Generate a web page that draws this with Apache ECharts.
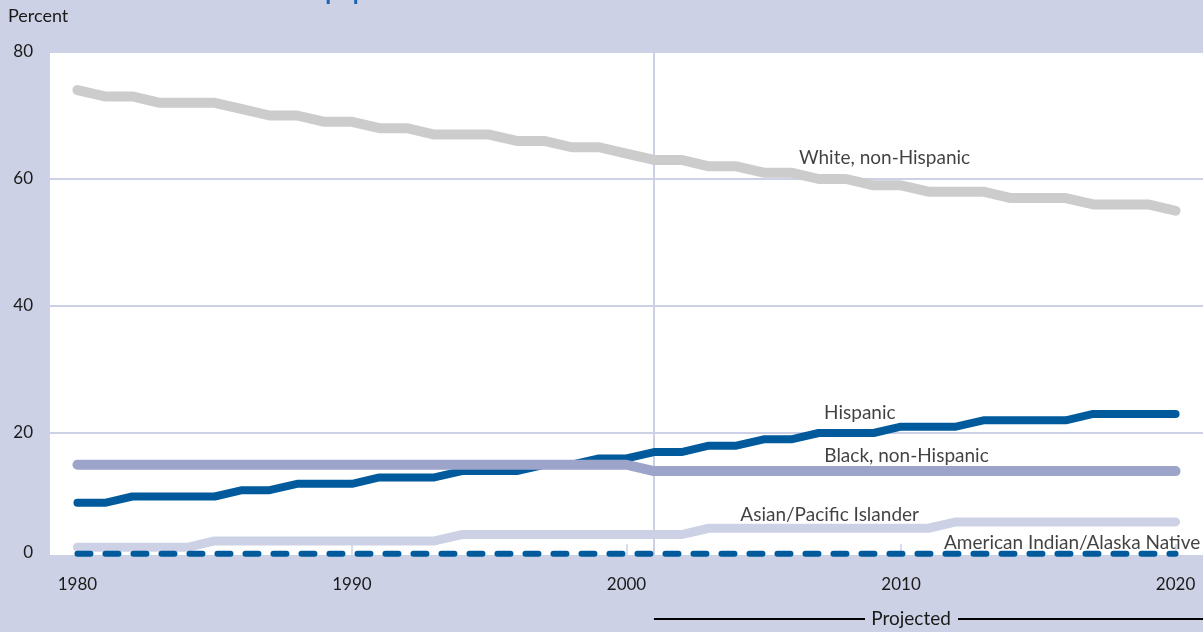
<!DOCTYPE html>
<html>
<head>
<meta charset="utf-8">
<script src="https://cdn.jsdelivr.net/npm/echarts@6/dist/echarts.min.js"></script>
<style>
html,body{margin:0;padding:0;background:#cdd1e5;}
#c{width:1203px;height:632px;}
</style>
</head>
<body>
<div id="c"></div>
<script>
const years = [1980,1981,1982,1983,1984,1985,1986,1987,1988,1989,1990,
  1991,1992,1993,1994,1995,1996,1997,1998,1999,2000,
  2001,2002,2003,2004,2005,2006,2007,2008,2009,2010,
  2011,2012,2013,2014,2015,2016,2017,2018,2019,2020];
const whiteNH = [74,73,73,72,72,72,71,70,70,69,69,
  68,68,67,67,67,66,66,65,65,64,
  63,63,62,62,61,61,60,60,59,59,
  58,58,58,57,57,57,56,56,56,55];
const hispanic = [9,9,10,10,10,10,11,11,12,12,12,
  13,13,13,14,14,14,15,15,16,16,
  17,17,18,18,19,19,20,20,20,21,
  21,21,22,22,22,22,23,23,23,23];
const blackNH = [15,15,15,15,15,15,15,15,15,15,15,
  15,15,15,15,15,15,15,15,15,15,
  14,14,14,14,14,14,14,14,14,14,
  14,14,14,14,14,14,14,14,14,14];
const asianPI = [2,2,2,2,2,3,3,3,3,3,3,
  3,3,3,4,4,4,4,4,4,4,
  4,4,5,5,5,5,5,5,5,5,
  5,6,6,6,6,6,6,6,6,6];
const amIndAN = [1,1,1,1,1,1,1,1,1,1,1,
  1,1,1,1,1,1,1,1,1,1,
  1,1,1,1,1,1,1,1,1,1,
  1,1,1,1,1,1,1,1,1,1];
const xTicks = [1980,1990,2000,2010,2020];
const yTicks = [0,20,40,60,80];
const projectionStart = 2001;
// series labels: [year, value, text]
const seriesLabels = [
  [2009.4, 63.3, 'White, non-Hispanic'],
  [2008.5, 23.1, 'Hispanic'],
  [2010.2, 16.4, 'Black, non-Hispanic'],
  [2007.4, 7.1, 'Asian/Pacific Islander']
];
const amIndLabel = [2020.9, 2.7, 'American Indian/Alaska Native'];

const FONT = 'Lato';
const chart = echarts.init(document.getElementById('c'), null, {renderer:'canvas'});
const pairs = arr => arr.map((v,i)=>[years[i], v]);

const lineSeries = (name, data, color, width, extra) => Object.assign({
  name, type:'line', data: pairs(data), symbol:'none', silent:true,
  lineStyle:{color, width, cap:'round', join:'round'}
}, extra||{});

chart.setOption({
  backgroundColor:'#cdd1e5',
  animation:false,
  textStyle:{fontFamily:FONT},
  grid:{left:50, right:0, top:52, bottom:72, show:true, backgroundColor:'#ffffff', borderWidth:0},
  xAxis:{
    type:'value', min:1979, max:2021,
    axisLine:{show:false},
    splitLine:{show:false},
    axisTick:{show:true, inside:true, length:16, customValues:xTicks, lineStyle:{color:'#cdd1e5', width:1.5}},
    axisLabel:{customValues:xTicks, formatter: v => String(v), color:'#1a1a1a', fontSize:17, fontFamily:FONT, margin:16}
  },
  yAxis:{
    type:'value', min:0, max:80, interval:20,
    axisLine:{show:false}, axisTick:{show:false},
    splitLine:{show:true, lineStyle:{color:'#cdd1e5', width:2}},
    axisLabel:{color:'#1a1a1a', fontSize:17, fontFamily:FONT, margin:17,
      formatter: v => v === 0 ? '{z|0}' : String(v),
      rich:{z:{fontSize:17, fontFamily:FONT, color:'#1a1a1a', padding:[0,0,14,0]}}}
  },
  series:[
    lineSeries('White, non-Hispanic', whiteNH, '#cccccc', 10, {
      markLine:{silent:true, symbol:'none', label:{show:false},
        lineStyle:{color:'#cdd1e5', width:2, type:'solid'},
        data:[{xAxis:projectionStart}], z:1}
    }),
    lineSeries('Hispanic', hispanic, '#005a9c', 8),
    lineSeries('Black, non-Hispanic', blackNH, '#9ca4ca', 10),
    lineSeries('Asian/Pacific Islander', asianPI, '#cdd1e5', 9),
    lineSeries('American Indian/Alaska Native', amIndAN, '#005a9c', 6, {
      lineStyle:{color:'#005a9c', width:6, cap:'round', type:[13,15]}
    }),
    {
      type:'scatter', symbolSize:0, silent:true, z:5,
      data: seriesLabels.map(d=>({value:[d[0], d[1]], name:d[2]})).concat([
        {value:[amIndLabel[0], amIndLabel[1]], name:amIndLabel[2], label:{align:'right', position:'left', distance:0}}
      ]),
      label:{show:true, position:'inside', formatter: p => p.name, color:'#111111', fontSize:19, fontFamily:FONT}
    }
  ]
});

function drawExtras(){
  const x0 = chart.convertToPixel({xAxisIndex:0}, projectionStart);
  const yBand = chart.convertToPixel({yAxisIndex:0}, 0);
  const projY = 619;
  chart.setOption({
    graphic:[
      {type:'rect', z:1, silent:true, shape:{x:50, y:555, width:1153, height:yBand-555+1}, style:{fill:'#cdd1e5'}},
      {type:'text', left:8, top:7, silent:true, style:{text:'Percent', fontSize:18, fontFamily:FONT, fill:'#1a1a1a'}},
      {type:'text', silent:true, x:-5, y:4, style:{text:'Children as a share of the total population', fontSize:24, fontWeight:'bold', fontFamily:FONT, fill:'#1b64b0', verticalAlign:'bottom', align:'left'}},
      {type:'line', silent:true, shape:{x1:x0, y1:projY, x2:865, y2:projY}, style:{stroke:'#000', lineWidth:2}},
      {type:'text', silent:true, x:911, y:projY, style:{text:'Projected', fontSize:19, fontFamily:FONT, fill:'#1a1a1a', align:'center', verticalAlign:'middle'}},
      {type:'line', silent:true, shape:{x1:958, y1:projY, x2:1203, y2:projY}, style:{stroke:'#000', lineWidth:2}}
    ]
  });
}
drawExtras();
</script>
</body>
</html>
